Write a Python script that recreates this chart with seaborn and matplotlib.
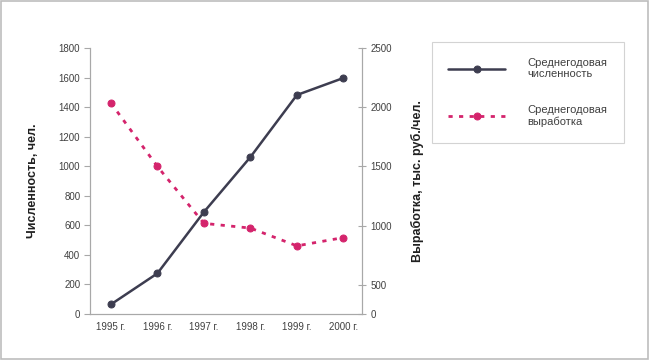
import numpy as np
import pandas as pd
import matplotlib
matplotlib.use("Agg")
import matplotlib.pyplot as plt
import seaborn as sns
from matplotlib.patches import Rectangle

# data
years = ['1995 г.', '1996 г.', '1997 г.', '1998 г.', '1999 г.', '2000 г.']
headcount = [65, 275, 690, 1062, 1482, 1597]        # left axis, чел.
output = [2035, 1500, 1020, 980, 830, 900]          # right axis, тыс. руб./чел.
left_ticks = [0, 200, 400, 600, 800, 1000, 1200, 1400, 1600, 1800]
right_ticks = [255, 500, 1000, 1500, 2000, 2500]
right_labels = ['0', '500', '1000', '1500', '2000', '2500']

sns.set_style("white")
plt.rcParams['font.family'] = ['Liberation Sans', 'DejaVu Sans']

dark = '#3d3d50'
pink = '#d4246c'
axis_gray = '#a8a8a8'
text_gray = '#404040'

df = pd.DataFrame({'x': np.arange(len(years)), 'headcount': headcount, 'output': output})

fig = plt.figure(figsize=(6.49, 3.6), dpi=100)
ax = fig.add_axes([90/649, 1-314/360, (362-90)/649, (314-48)/360])
ax2 = ax.twinx()

sns.lineplot(data=df, x='x', y='headcount', ax=ax, color=dark, lw=1.8,
             marker='o', markersize=5, markeredgecolor=dark,
             label='Среднегодовая\nчисленность', legend=False)
sns.lineplot(data=df, x='x', y='output', ax=ax2, color=pink, lw=2,
             marker='o', markersize=5, markeredgecolor=pink,
             label='Среднегодовая\nвыработка', legend=False)
ax2.lines[0].set_dashes((1.5, 2.3))

ax.set_xlim(-0.45, 5.4)
ax.set_ylim(0, 1800)
ax2.set_ylim(255, 2500)
ax.set_xticks(np.arange(len(years)))
ax.set_xticklabels(years)
ax.set_xticks(np.arange(len(years) - 1) + 0.5, minor=True)
ax.set_yticks(left_ticks)
ax2.set_yticks(right_ticks)
ax2.set_yticklabels(right_labels)

for a in (ax, ax2):
    a.set_xlabel('')
    for s in a.spines.values():
        s.set_color(axis_gray)
        s.set_linewidth(0.8)
    a.spines['top'].set_visible(False)
    a.tick_params(colors=axis_gray, labelcolor=text_gray, labelsize=7, width=0.8)

ax.tick_params(axis='x', which='major', length=0, pad=6)
ax.tick_params(axis='x', which='minor', length=4, direction='out', color=axis_gray, width=0.8)
ax.tick_params(axis='y', length=4, direction='out', pad=3)
ax2.tick_params(axis='y', length=6, direction='inout', pad=3)

ax.set_ylabel('Численность, чел.', fontsize=9, fontweight='bold', color='#202020', labelpad=14)
ax2.set_ylabel('Выработка, тыс. руб./чел.', fontsize=9, fontweight='bold', color='#202020', labelpad=14)

handles = ax.lines[:1] + ax2.lines[:1]
labels = ['Среднегодовая\nчисленность', 'Среднегодовая\nвыработка']
leg = fig.legend(handles, labels, loc='upper left', bbox_to_anchor=(426/649, 1-36/360),
                 frameon=True, fancybox=False, fontsize=8, handlelength=5.2,
                 handletextpad=2.0, labelspacing=2.3, borderpad=1.45, numpoints=1)
leg.get_frame().set_edgecolor('#c8c8c8')
leg.get_frame().set_linewidth(0.8)
for t in leg.get_texts():
    t.set_color(text_gray)

fig.patches.append(Rectangle((0.001, 0.002), 0.997, 0.995, transform=fig.transFigure,
                             fill=False, edgecolor='#bdbdbd', lw=1.2))

fig.savefig('out.png', dpi=100)
